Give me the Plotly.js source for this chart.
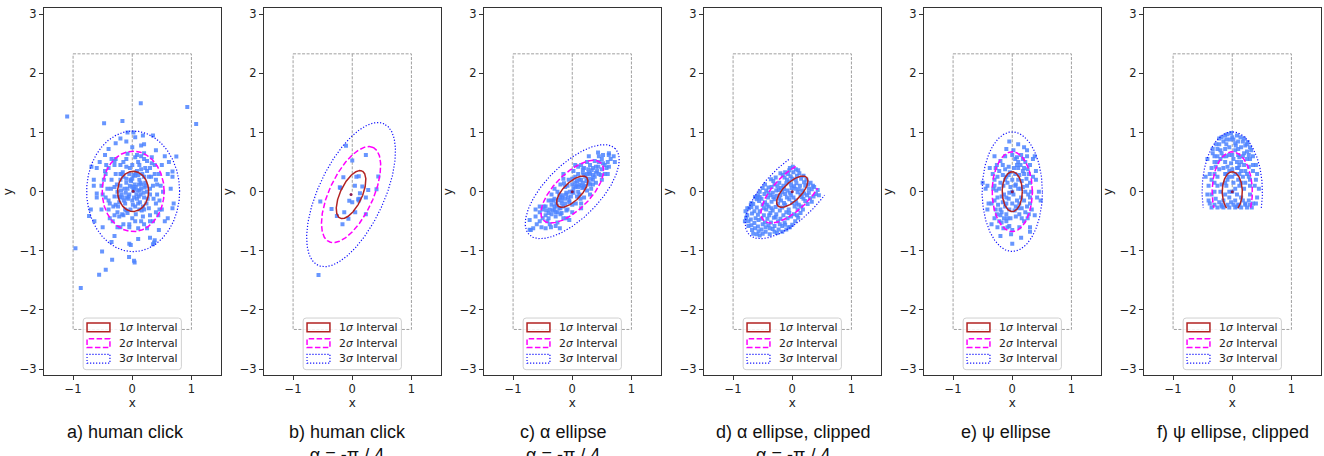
<!DOCTYPE html>
<html><head><meta charset="utf-8">
<script src="https://cdn.plot.ly/plotly-3.0.1.min.js"></script>
<style>html,body{margin:0;padding:0;background:#fff}#chart{width:1324px;height:456px}</style>
</head><body><div id="chart"></div>
<script>
// ---------- captions ----------
const panelCaptions = [
  'a) human click',
  'b) human click<br>α = -π / 4',
  'c) α ellipse<br>α = -π / 4',
  'd) α ellipse, clipped<br>α = -π / 4',
  'e) ψ ellipse',
  'f) ψ ellipse, clipped'
];
const captionCenterPx = [125.5, 347, 563, 793, 1006, 1233];

// ---------- ellipse parameters (center, 1-sigma semi axes, rotation, clipping) ----------
const ellCenterX = [0.015, -0.02, 0, 0, 0, 0];
const ellCenterY = [0.005, -0.05, 0, 0, 0, 0];
const ellSigmaA  = [0.262, 0.44, 0.343, 0.343, 0.17, 0.17];
const ellSigmaB  = [0.34, 0.185, 0.151, 0.151, 0.337, 0.337];
const ellAngleDeg = [0, 65, 45, 45, 0, 0];
const clipNormalDeg = [null, null, null, 45, null, -90];
const clipOffset    = [null, null, null, 0.35, null, 0.28];
const sigmaLevels = [1, 2, 3];
const sigmaLabels = ['1<i>σ</i> Interval', '2<i>σ</i> Interval', '3<i>σ</i> Interval'];
const sigmaColors = ['firebrick', '#ff00ff', '#1010ff'];
const sigmaDash = ['solid', '5.5px,2.4px', '1.2px,1.8px'];
const sigmaWidth = [1.5, 1.5, 1.2];

// ---------- guide box ----------
const boxHalfWidth = 1.0;
const boxHalfHeight = 2.33;

// ---------- ticks ----------
const xTicks = [-1, 0, 1];
const yTicks = [-3, -2, -1, 0, 1, 2, 3];

// ---------- click points ----------
const aPoints = [
 [0.02,0.01],[-0.1,0.15],[0.12,0.2],[-0.18,-0.05],[0.2,-0.1],[0.05,-0.25],[-0.05,0.3],[0.15,0.05],[-0.12,-0.2],[0.08,-0.12],
 [-0.2,0.1],[0.22,0.15],[0.0,-0.15],[-0.08,0.05],[0.1,0.28],[-0.15,0.25],[0.18,-0.25],[-0.22,-0.18],[0.04,0.12],[-0.03,-0.3],
 [0.25,0.0],[-0.25,0.0],[0.12,-0.3],[-0.1,-0.32],[0.06,0.32],[-0.16,-0.1],[0.16,0.12],[-0.05,-0.05],[0.09,0.02],[-0.13,0.05],
 [0.2,0.25],[-0.2,0.2],[0.0,0.22],[0.13,-0.18],[-0.07,-0.12],[0.03,0.05],[-0.02,0.18],[0.24,-0.2],[-0.24,-0.25],[0.07,-0.05],
 [-0.18,0.3],[0.17,0.3],[0.11,-0.08],[-0.11,-0.02],[0.01,-0.22],[0.21,0.07],[-0.21,-0.1],[0.05,0.27],[-0.04,0.1],[0.14,-0.05],
 [0.06,0.08],[-0.06,-0.08],[0.14,0.15],[-0.14,-0.15],[0.19,-0.02],[-0.19,0.02],[0.03,-0.1],[-0.03,0.2],[0.1,-0.2],[-0.1,0.22],
 [0.23,0.1],[-0.23,-0.08],[0.08,0.35],[-0.08,-0.36],[0.16,-0.32],[-0.16,0.33],[0.26,-0.12],[-0.26,0.12],[0.0,0.08],[0.12,0.02],
 [-0.12,-0.3],[0.02,0.28],[0.2,-0.3],[-0.2,0.3],[0.28,0.25],[-0.28,-0.22],[0.06,-0.38],[-0.04,0.4],[0.3,-0.05],[-0.3,0.08],
 [0.15,0.38],[-0.15,-0.4],[0.25,0.35],[-0.25,-0.35],[0.11,0.12],[-0.09,-0.1],
 [0.35,0.1],[0.4,-0.2],[0.3,0.4],[-0.35,0.2],[-0.4,-0.15],[-0.3,-0.4],[0.1,0.5],[-0.1,0.55],[0.05,-0.5],[-0.15,-0.55],
 [0.45,0.3],[-0.45,0.3],[0.2,-0.55],[0.3,-0.4],[-0.3,0.45],[0.15,0.6],[-0.2,0.45],[0.42,-0.05],[-0.42,0.05],[0.25,0.52],
 [-0.05,-0.6],[0.35,-0.5],[-0.38,-0.45],[0.48,0.1],[-0.5,-0.05],[0.08,0.62],[-0.28,0.55],[0.38,0.45],[0.5,-0.3],[-0.48,0.2],
 [0.32,0.25],[-0.32,-0.25],[0.28,-0.28],[-0.28,0.3],[0.0,0.45],[0.0,-0.45],[0.22,0.4],[-0.22,-0.42],[0.36,-0.12],[-0.36,0.05],
 [0.18,-0.42],[-0.1,0.42],[0.12,0.45],[-0.17,-0.38],[0.4,0.2],[-0.4,-0.3],[0.3,0.05],[-0.3,-0.08],[0.44,-0.4],[-0.25,-0.6],
 [0.1,-0.62],[-0.08,0.64],[0.5,0.45],[-0.52,-0.3],[0.2,0.65],[0.33,0.58],[-0.35,0.55],[0.46,-0.15],[-0.44,0.45],[0.25,-0.62],
 [0.38,0.3],[-0.38,-0.2],[0.42,0.12],[-0.45,-0.1],[0.3,-0.5],[-0.3,0.52],[0.2,0.55],[-0.2,-0.6],[0.05,0.58],[-0.05,-0.55],
 [0.46,-0.3],[-0.46,0.35],[0.33,0.48],[-0.33,-0.5],[0.4,-0.35],[-0.4,0.4],[0.52,0.0],[-0.52,0.1],[0.15,-0.5],[-0.15,0.5],
 [0.6,0.3],[-0.6,-0.1],[0.55,-0.5],[-0.55,0.5],[0.2,0.8],[-0.1,0.85],[0.1,-0.8],[-0.3,-0.75],[0.65,0.05],[-0.65,0.2],
 [0.4,0.7],[-0.4,0.72],[0.45,-0.65],[-0.5,-0.6],[0.7,-0.2],[-0.7,-0.3],[0.05,0.92],[-0.05,-0.88],[0.3,-0.78],[0.62,0.5],
 [-0.2,0.9],[0.55,0.6],[-0.6,0.4],[0.15,0.78],[-0.35,-0.85],[0.68,0.25],[0.0,0.75],[0.02,1.0],[-0.08,1.0],[0.18,0.95],
 [0.35,0.95],[-0.28,0.82],[0.6,-0.45],[0.38,-0.82],
 [0.144,1.495],[0.93,1.43],[1.08,1.145],[-1.1,1.27],[-0.476,1.157],[-0.166,1.196],[-0.96,-0.955],[-0.87,-1.63],[-0.56,-1.405],[-0.448,-1.32],
 [-0.51,-1.01],[-0.34,-1.15],[-0.054,-1.107],[0.04,-1.2],[0.03,-1.17],[-0.025,-0.9],[0.37,-0.86],[0.35,-0.89],[0.68,-0.28],[0.745,0.593],
 [0.68,0.34],[-0.65,0.1],[-0.6,-0.03],[-0.73,-0.41],[-0.64,-0.5],[-0.46,0.62],[-0.69,0.42]
];
const bPoints = [
 [-0.106,0.774],[0.23,0.62],[0.0,0.525],[0.07,0.25],[0.11,0.26],[-0.15,0.245],[0.17,0.086],[0.045,0.098],[-0.21,0.076],[-0.2,0.06],
 [0.27,0.03],[0.41,0.04],[0.44,0.255],[0.13,-0.025],[0.1,-0.13],[0.11,-0.15],[0.12,-0.12],[-0.05,-0.155],[0.0,-0.18],[0.23,-0.1],
 [-0.54,-0.167],[-0.35,-0.295],[-0.26,-0.41],[-0.135,-0.35],[0.05,-0.35],[0.23,-0.38],[-0.065,-0.46],[-0.165,-0.55],[-0.57,-1.41]
];
const cPoints = [
 [0.02,0.05],[-0.1,-0.05],[0.15,0.2],[-0.2,-0.1],[0.25,0.3],[-0.3,-0.25],[0.1,0.0],[0.0,0.12],[-0.05,-0.18],[0.2,0.08],
 [-0.15,-0.25],[0.32,0.22],[-0.25,-0.35],[0.05,0.25],[0.12,-0.05],[-0.12,0.08],[0.35,0.4],[-0.38,-0.3],[0.28,0.15],[-0.22,-0.05],
 [0.18,0.32],[-0.08,-0.3],[0.42,0.35],[-0.45,-0.4],[0.08,0.18],[-0.02,-0.08],[0.22,0.1],[-0.18,-0.2],[0.3,0.45],[-0.32,-0.15],
 [0.45,0.5],[-0.5,-0.45],[0.5,0.38],[-0.42,-0.5],[0.14,-0.12],[-0.14,0.14],[0.38,0.25],[-0.28,-0.42],[0.06,-0.2],[-0.06,0.2],
 [0.25,0.02],[-0.25,0.0],[0.55,0.45],[-0.55,-0.35],[0.02,0.35],[0.0,-0.35],[0.32,0.05],[-0.35,-0.05],[0.48,0.28],[-0.48,-0.25],
 [0.15,0.45],[-0.15,-0.45],[0.4,0.15],[-0.4,-0.15],[0.6,0.5],[-0.6,-0.55],[0.2,0.4],[-0.2,-0.38],[0.1,0.3],[-0.1,-0.32],
 [0.35,0.28],[-0.35,-0.38],[0.27,0.38],[-0.27,-0.2],[0.45,0.3],[-0.45,-0.25],[0.5,0.55],[-0.52,-0.6],[0.62,0.42],[-0.62,-0.42],
 [0.05,0.08],[-0.04,0.0],[0.17,0.06],[-0.17,-0.1],[0.08,-0.08],[-0.08,0.1],[0.3,0.3],[-0.3,-0.3],[0.22,0.25],[-0.22,-0.28],
 [0.4,0.42],[-0.4,-0.36],[0.12,0.12],[-0.12,-0.12],[0.0,0.0],[0.55,0.3],[-0.55,-0.25],[0.45,0.6],[-0.45,-0.62],[0.25,0.5],
 [-0.25,-0.52],[0.35,0.12],[-0.35,-0.15],[0.1,0.42],[-0.1,-0.45],[0.7,0.6],[-0.7,-0.65],[0.6,0.3],[-0.3,0.05],[0.3,-0.05],
 [0.15,-0.2],[-0.15,0.22],[0.65,0.55],[-0.15,0.3],[0.15,-0.28],[0.38,0.52],[-0.38,-0.55],[0.52,0.62],[-0.5,-0.3],[0.5,0.2],
 [0.28,0.6],[-0.28,-0.58],[0.62,0.65],[0.72,0.5],[-0.72,-0.48],[-0.62,-0.3],[0.05,0.45],[-0.05,-0.48],[0.2,-0.1],[-0.2,0.12],
 [0.07,0.1],[-0.07,-0.1],[0.18,0.15],[-0.18,-0.15],[0.26,0.22],[-0.26,-0.24],[0.33,0.36],[-0.33,-0.32],[0.12,0.2],[-0.12,-0.2],
 [0.2,0.28],[-0.2,-0.28],[0.02,-0.02],[0.1,0.08],[-0.1,-0.02],[0.28,0.32],[-0.28,-0.35],[0.4,0.32],[-0.4,-0.45],[0.16,0.1],
 [-0.16,-0.06],[0.05,0.15],[-0.05,-0.15],[0.35,0.2],[-0.35,-0.22],[0.44,0.42],[-0.44,-0.32],[0.24,0.18],[-0.24,-0.14],[0.52,0.48],
 [-0.55,-0.5],[0.58,0.4],[0.0,0.22],[0.0,-0.22],[0.3,0.12],[-0.3,-0.12],[0.18,0.38],[-0.18,-0.36],
 [0.436,0.66],[0.617,0.62],[-0.72,-0.645],[-0.66,-0.62],[-0.21,-0.617],[-0.36,-0.6]
];
const dPoints = [
 [0.43,0.03],[0.37,0.08],[0.31,0.15],[0.24,0.2],[0.19,0.27],[0.12,0.31],[0.06,0.38],[0.01,0.42],[-0.04,0.4],[0.4,-0.04],
 [0.33,0.04],[0.27,0.12],[0.2,0.16],[0.15,0.22],[0.08,0.27],[0.02,0.33],[-0.05,0.36],[0.36,-0.08],[0.45,-0.06],[0.28,0.05],
 [0.1,0.36],[0.22,0.1],[0.35,0.1],
 [0.3,-0.11],[0.25,-0.06],[0.17,0.02],[0.13,0.1],[0.07,0.14],[0.0,0.22],[-0.07,0.3],[-0.12,0.33],[0.22,-0.16],[0.14,-0.05],
 [0.05,0.05],[-0.02,0.12],[-0.09,0.2],[-0.16,0.28],[0.26,-0.21],[0.19,-0.12],[0.09,-0.01],[0.03,0.09],[-0.05,0.17],[-0.13,0.24],
 [-0.2,0.31],[0.33,-0.17],[0.11,0.04],[-0.01,0.06],[0.16,-0.09],[0.2,-0.03],[-0.1,0.14],[0.06,0.2],[-0.03,0.26],[0.28,-0.02],
 [0.18,-0.3],[0.11,-0.22],[0.06,-0.15],[-0.02,-0.06],[-0.08,0.02],[-0.15,0.1],[-0.22,0.15],[-0.28,0.24],[0.14,-0.36],[0.04,-0.25],
 [-0.05,-0.13],[-0.12,-0.04],[-0.19,0.06],[-0.25,0.09],[-0.32,0.18],[0.09,-0.3],[0.0,-0.19],[-0.09,-0.1],[-0.17,-0.01],[-0.23,0.03],
 [-0.3,0.12],[-0.36,0.21],[0.15,-0.25],[-0.04,-0.02],[0.02,-0.1],[-0.14,0.04],[-0.27,0.02],[0.07,-0.2],[-0.2,-0.06],[-0.35,0.08],
 [0.1,-0.44],[0.03,-0.38],[-0.06,-0.3],[-0.12,-0.22],[-0.19,-0.15],[-0.26,-0.07],[-0.33,-0.02],[-0.4,0.07],[-0.46,0.12],[0.05,-0.5],
 [-0.02,-0.42],[-0.1,-0.35],[-0.17,-0.27],[-0.24,-0.2],[-0.3,-0.13],[-0.37,-0.06],[-0.44,0.02],[-0.5,0.06],[0.0,-0.56],[-0.08,-0.45],
 [-0.15,-0.4],[-0.21,-0.32],[-0.28,-0.26],[-0.35,-0.17],[-0.41,-0.1],[-0.47,-0.04],[-0.14,-0.19],[-0.22,-0.12],[-0.05,-0.36],[-0.32,-0.09],
 [-0.4,-0.02],[0.08,-0.4],
 [-0.06,-0.6],[-0.13,-0.52],[-0.2,-0.46],[-0.27,-0.38],[-0.33,-0.32],[-0.4,-0.25],[-0.46,-0.18],[-0.52,-0.12],[-0.58,-0.06],[-0.55,0.0],
 [-0.1,-0.64],[-0.17,-0.58],[-0.24,-0.5],[-0.31,-0.44],[-0.37,-0.36],[-0.44,-0.3],[-0.5,-0.22],[-0.56,-0.16],[-0.63,-0.09],[-0.6,-0.1],
 [-0.04,-0.6],[-0.12,-0.56],[-0.28,-0.43],[-0.35,-0.28],[-0.43,-0.22],[-0.55,-0.09],[-0.21,-0.55],[-0.48,-0.28],[-0.6,-0.13],[-0.39,-0.4],
 [-0.17,-0.68],[-0.23,-0.64],[-0.3,-0.58],[-0.36,-0.52],[-0.42,-0.46],[-0.48,-0.4],[-0.55,-0.33],[-0.6,-0.27],[-0.66,-0.21],[-0.69,-0.19],
 [-0.7,-0.22],[-0.26,-0.7],[-0.33,-0.63],[-0.4,-0.57],[-0.46,-0.52],[-0.52,-0.46],[-0.58,-0.39],[-0.64,-0.33],[-0.69,-0.26],[-0.76,-0.28],
 [-0.3,-0.68],[-0.45,-0.6],[-0.57,-0.48],[-0.68,-0.37],[-0.38,-0.62],[-0.62,-0.45],[-0.73,-0.28],[-0.5,-0.55],
 [-0.38,-0.72],[-0.45,-0.68],[-0.52,-0.64],[-0.58,-0.59],[-0.64,-0.53],[-0.7,-0.47],[-0.76,-0.4],[-0.79,-0.33],[-0.5,-0.71],[-0.57,-0.67],
 [-0.63,-0.62],[-0.69,-0.57],[-0.74,-0.5],[-0.78,-0.44],[-0.6,-0.72],[-0.68,-0.65],[-0.74,-0.58],[-0.8,-0.5],[-0.55,-0.74],[-0.66,-0.71]
];
const ePoints = [
 [0.0,0.0],[0.1,0.2],[-0.1,-0.2],[0.15,-0.1],[-0.15,0.1],[0.05,0.3],[-0.05,-0.3],[0.12,0.28],[-0.12,-0.25],[0.08,-0.15],
 [-0.08,0.15],[0.02,-0.05],[-0.03,0.08],[0.14,0.05],[-0.14,-0.05],[0.06,0.12],[-0.06,-0.12],[0.1,-0.28],[-0.1,0.25],[0.0,0.2],
 [0.0,-0.2],[0.16,0.18],[-0.16,-0.18],[0.04,-0.32],[-0.04,0.33],
 [0.25,0.1],[-0.25,-0.1],[0.2,0.4],[-0.2,-0.4],[0.3,-0.2],[-0.3,0.2],[0.1,0.5],[-0.1,-0.5],[0.22,-0.35],[-0.22,0.35],
 [0.28,0.3],[-0.28,-0.3],[0.05,0.55],[-0.05,-0.58],[0.32,0.0],[-0.32,0.05],[0.18,0.55],[-0.18,-0.52],[0.26,-0.45],[-0.26,0.45],
 [0.15,0.62],[-0.15,-0.62],[0.3,0.45],[-0.3,-0.45],[0.12,-0.6],[-0.12,0.6],[0.24,0.22],[-0.24,-0.22],[0.2,-0.15],[-0.2,0.15],
 [0.27,-0.05],[-0.27,0.02],[0.08,0.45],[-0.08,-0.45],[0.16,-0.45],[-0.16,0.45],[0.22,0.5],[-0.22,-0.5],[0.33,-0.3],[-0.33,0.3],
 [0.0,0.62],[0.0,-0.65],[0.1,0.4],[-0.1,-0.38],[0.2,0.3],[-0.2,-0.3],[0.25,-0.25],[-0.25,0.25],[0.3,0.15],[-0.3,-0.15],
 [0.06,-0.42],[-0.06,0.42],[0.18,0.08],[-0.18,-0.08],[0.12,-0.38],[-0.12,0.38],
 [0.05,0.1],[-0.05,-0.02],[0.12,-0.2],[-0.12,0.2],[0.18,0.35],[-0.18,-0.35],[0.22,0.0],[-0.22,0.05],[0.08,0.58],[-0.08,-0.6],
 [0.26,0.38],[-0.26,-0.38],[0.14,0.45],[-0.14,-0.45],[0.03,0.4],[-0.03,-0.45],[0.3,-0.1],[-0.3,0.1],[0.2,-0.5],[-0.2,0.52],
 [0.1,0.05],[-0.1,-0.1],[0.16,-0.28],[-0.16,0.28],[0.25,0.6],[-0.25,-0.6],[0.35,0.25],[-0.35,-0.2],[0.02,0.7],[-0.02,-0.72],
 [0.28,-0.38],[-0.28,0.4],[0.06,-0.25],[-0.06,0.28],
 [0.4,0.2],[-0.4,-0.2],[0.42,-0.1],[-0.42,0.1],[0.35,0.55],[-0.35,-0.55],[0.3,-0.6],[-0.3,0.6],[0.2,0.75],[-0.2,-0.75],
 [0.1,0.8],[-0.05,0.85],[0.45,0.0],[-0.45,0.05],[0.38,-0.4],[-0.38,0.4],[0.15,-0.78],[0.0,-0.88],[0.4,0.35],[-0.42,-0.3],
 [0.48,-0.15],[-0.5,0.15],[0.25,0.7],[-0.1,0.72],[0.3,-0.68],[0.38,0.6]
];
const fPoints = [
 [-0.35,-0.27],[-0.25,-0.27],[-0.15,-0.27],[-0.05,-0.27],[0.05,-0.27],[0.15,-0.27],[0.25,-0.27],[0.33,-0.27],
 [-0.3,-0.22],[-0.18,-0.22],[-0.08,-0.22],[0.02,-0.22],[0.12,-0.22],[0.22,-0.22],[0.3,-0.22],
 [0.0,0.0],[0.1,0.2],[-0.1,0.1],[0.15,-0.1],[-0.15,-0.15],[0.05,0.3],[-0.05,0.35],[0.12,0.45],[-0.12,0.5],[0.08,-0.05],
 [-0.08,0.2],[0.2,0.05],[-0.2,0.0],[0.25,0.3],[-0.25,0.25],[0.3,0.1],[-0.3,0.15],[0.18,0.6],[-0.18,0.65],[0.05,0.7],
 [-0.05,0.75],[0.1,0.85],[-0.1,0.88],[0.0,0.92],[0.22,0.78],[-0.22,0.8],[0.3,0.55],[-0.3,0.5],[0.35,0.35],[-0.35,0.4],
 [0.4,0.2],[-0.4,0.1],[0.42,-0.1],[-0.42,-0.05],[0.28,-0.15],[-0.28,-0.12],[0.15,0.35],[-0.15,0.4],[0.02,0.55],[-0.02,0.48],
 [0.1,0.62],[-0.1,0.6],[0.25,0.68],[-0.25,0.72],[0.32,0.7],[-0.33,0.65],[0.2,0.9],[-0.18,0.92],[0.08,0.95],[-0.08,0.97],
 [0.12,0.1],[-0.12,-0.05],[0.05,-0.15],[-0.05,-0.1],[0.22,-0.2],[-0.22,-0.18],[0.35,-0.2],[-0.38,-0.2],[0.45,0.05],[-0.45,0.25],
 [0.4,0.45],[-0.42,0.55],[0.26,0.84],[-0.27,0.8],[0.15,0.75],[-0.12,0.72],[0.2,0.45],[-0.22,0.38],[0.08,0.4],[-0.06,0.25],
 [0.18,0.25],[-0.2,0.55],[0.28,0.42],[-0.3,0.3],[0.02,0.15],[0.12,0.58],[-0.1,0.8],[0.05,0.82],[0.25,0.55],[-0.25,0.6],
 [0.35,0.6],[-0.33,0.72],[0.38,0.1],[-0.35,-0.05],[0.1,-0.22],[-0.12,0.3],[0.22,0.15],[-0.18,0.12],[0.3,-0.05],[-0.25,0.1],
 [0.15,0.5],[-0.05,0.62],[0.0,0.38],[0.28,0.25],[-0.28,0.42],[0.1,0.72],[-0.15,0.85],[0.18,0.85],[0.02,0.88],[-0.02,0.99],
 [0.05,0.05],[-0.05,0.0],[0.12,0.3],[-0.12,0.15],[0.2,0.65],[-0.2,0.7],[0.0,0.62],[0.08,0.5],[-0.08,0.42],[0.3,0.2],
 [-0.3,0.0],[0.15,0.15],[-0.15,0.6],[0.25,0.8],[-0.25,0.5],[0.06,0.78],[-0.04,0.88],[0.14,0.92],[-0.12,0.95],[0.35,0.45],
 [-0.38,0.3],[0.4,-0.2],[-0.4,-0.15],[0.18,-0.15],[-0.18,-0.25],[0.08,-0.25],[-0.02,-0.18],[0.28,0.62],[-0.3,0.6],[0.22,0.35],
 [-0.1,0.3],[0.1,0.4],[0.0,0.25],[-0.22,0.9],[0.3,0.75],[-0.35,0.2],[0.42,0.3]
];
const panelPoints = [aPoints, bPoints, cPoints, dPoints, ePoints, fPoints];

// ---------- helpers ----------
function ellipseCurve(i, k) {
  const N = 480, th = ellAngleDeg[i] * Math.PI / 180;
  const a = ellSigmaA[i] * k, b = ellSigmaB[i] * k;
  const cx = ellCenterX[i], cy = ellCenterY[i];
  const pts = [];
  for (let j = 0; j < N; j++) {
    const t = 2 * Math.PI * j / N, u = a * Math.cos(t), v = b * Math.sin(t);
    pts.push([cx + u * Math.cos(th) - v * Math.sin(th), cy + u * Math.sin(th) + v * Math.cos(th)]);
  }
  if (clipNormalDeg[i] === null) { pts.push(pts[0]); return pts; }
  const nd = clipNormalDeg[i] * Math.PI / 180;
  const keep = pts.map(p => (p[0] - cx) * Math.cos(nd) + (p[1] - cy) * Math.sin(nd) <= clipOffset[i]);
  const r = keep.indexOf(false);
  if (r < 0) { pts.push(pts[0]); return pts; }
  const out = [];
  for (let j = 1; j <= N; j++) { const idx = (r + j) % N; if (keep[idx]) out.push(pts[idx]); }
  return out;
}

const W = 1324, H = 456;
const traces = [];
const layout = {
  width: W, height: H, margin: {l: 0, r: 0, t: 0, b: 0},
  paper_bgcolor: '#ffffff', plot_bgcolor: '#ffffff', showlegend: false,
  shapes: [], annotations: []
};
const tickFont = {family: 'DejaVu Sans', size: 11.5, color: '#222'};

for (let i = 0; i < 6; i++) {
  const sfx = i ? String(i + 1) : '';
  const xr = 'x' + sfx, yr = 'y' + sfx;
  layout['xaxis' + sfx] = {
    domain: [(43.5 + 220 * i) / W, (221 + 220 * i) / W], range: [-1.5, 1.5], anchor: yr,
    tickvals: xTicks, ticks: 'outside', ticklen: 3.5, tickwidth: 1, tickcolor: '#333',
    showline: true, mirror: true, linecolor: '#333', linewidth: 1, showgrid: false, zeroline: false,
    tickfont: tickFont, title: {text: 'x', font: {family: 'DejaVu Sans', size: 12, color: '#222'}, standoff: 2},
    automargin: false, fixedrange: true
  };
  layout['yaxis' + sfx] = {
    domain: [81 / H, 447.7 / H], range: [-3.1, 3.1], anchor: xr,
    tickvals: yTicks, ticks: 'outside', ticklen: 3.5, tickwidth: 1, tickcolor: '#333',
    showline: true, mirror: true, linecolor: '#333', linewidth: 1, showgrid: false, zeroline: false,
    tickfont: tickFont, title: {text: 'y', font: {family: 'DejaVu Sans', size: 12, color: '#222'}, standoff: 4},
    automargin: false, fixedrange: true
  };

  // guide box and centre line
  const bx = [-boxHalfWidth, boxHalfWidth, boxHalfWidth, -boxHalfWidth, -boxHalfWidth];
  const by = [boxHalfHeight, boxHalfHeight, -boxHalfHeight, -boxHalfHeight, boxHalfHeight];
  traces.push({type: 'scatter', mode: 'lines', x: bx, y: by, xaxis: xr, yaxis: yr,
    line: {color: '#a0a0a0', width: 1, dash: '3px,1.5px'}, hoverinfo: 'skip'});
  traces.push({type: 'scatter', mode: 'lines', x: [0, 0], y: [boxHalfHeight, 0], xaxis: xr, yaxis: yr,
    line: {color: '#a0a0a0', width: 1, dash: '3px,1.5px'}, hoverinfo: 'skip'});

  // points
  const pts = panelPoints[i];
  traces.push({type: 'scatter', mode: 'markers', x: pts.map(p => p[0]), y: pts.map(p => p[1]),
    xaxis: xr, yaxis: yr, marker: {symbol: 'square', size: 4, color: 'rgb(78,132,255)', opacity: 0.85, line: {width: 0}}});

  // sigma ellipses
  for (let s = 2; s >= 0; s--) {
    const c = ellipseCurve(i, sigmaLevels[s]);
    traces.push({type: 'scatter', mode: 'lines', x: c.map(p => p[0]), y: c.map(p => p[1]),
      xaxis: xr, yaxis: yr, name: sigmaLabels[s],
      line: {color: sigmaColors[s], width: sigmaWidth[s], dash: sigmaDash[s]}});
  }
  // centre
  traces.push({type: 'scatter', mode: 'markers', x: [ellCenterX[i]], y: [ellCenterY[i]], xaxis: xr, yaxis: yr,
    marker: {size: 3, color: '#8a1a50'}});

  // legend (drawn in data space of each panel)
  const lx0 = -0.83, lx1 = 0.83, ly1 = -2.137, ly0 = -3.01, rr = 0.05;
  layout.shapes.push({type: 'path', xref: xr, yref: yr,
    path: `M${lx0 + rr},${ly1} L${lx1 - rr},${ly1} Q${lx1},${ly1} ${lx1},${ly1 - rr} L${lx1},${ly0 + rr} Q${lx1},${ly0} ${lx1 - rr},${ly0} L${lx0 + rr},${ly0} Q${lx0},${ly0} ${lx0},${ly0 + rr} L${lx0},${ly1 - rr} Q${lx0},${ly1} ${lx0 + rr},${ly1} Z`,
    fillcolor: 'rgba(255,255,255,0.85)', line: {color: '#d0d0d0', width: 1}});
  const rowY = [-2.296, -2.56, -2.826];
  for (let s = 0; s < 3; s++) {
    layout.shapes.push({type: 'rect', xref: xr, yref: yr, x0: -0.764, x1: -0.377,
      y0: rowY[s] - 0.074, y1: rowY[s] + 0.074, fillcolor: 'rgba(0,0,0,0)',
      line: {color: sigmaColors[s], width: sigmaWidth[s], dash: sigmaDash[s]}});
    layout.annotations.push({xref: xr, yref: yr, x: -0.25, y: rowY[s], xanchor: 'left', yanchor: 'middle',
      text: sigmaLabels[s], showarrow: false, font: {family: 'DejaVu Sans', size: 10.8, color: '#222'}});
  }

  // caption
  layout.annotations.push({xref: 'paper', yref: 'paper', x: captionCenterPx[i] / W, y: (H - 420) / H,
    xanchor: 'center', yanchor: 'top', align: 'center', text: panelCaptions[i], showarrow: false,
    font: {family: 'Liberation Sans, Arial, sans-serif', size: 18, color: '#111'}});
}

Plotly.newPlot('chart', traces, layout, {displayModeBar: false, staticPlot: true});
</script></body></html>
